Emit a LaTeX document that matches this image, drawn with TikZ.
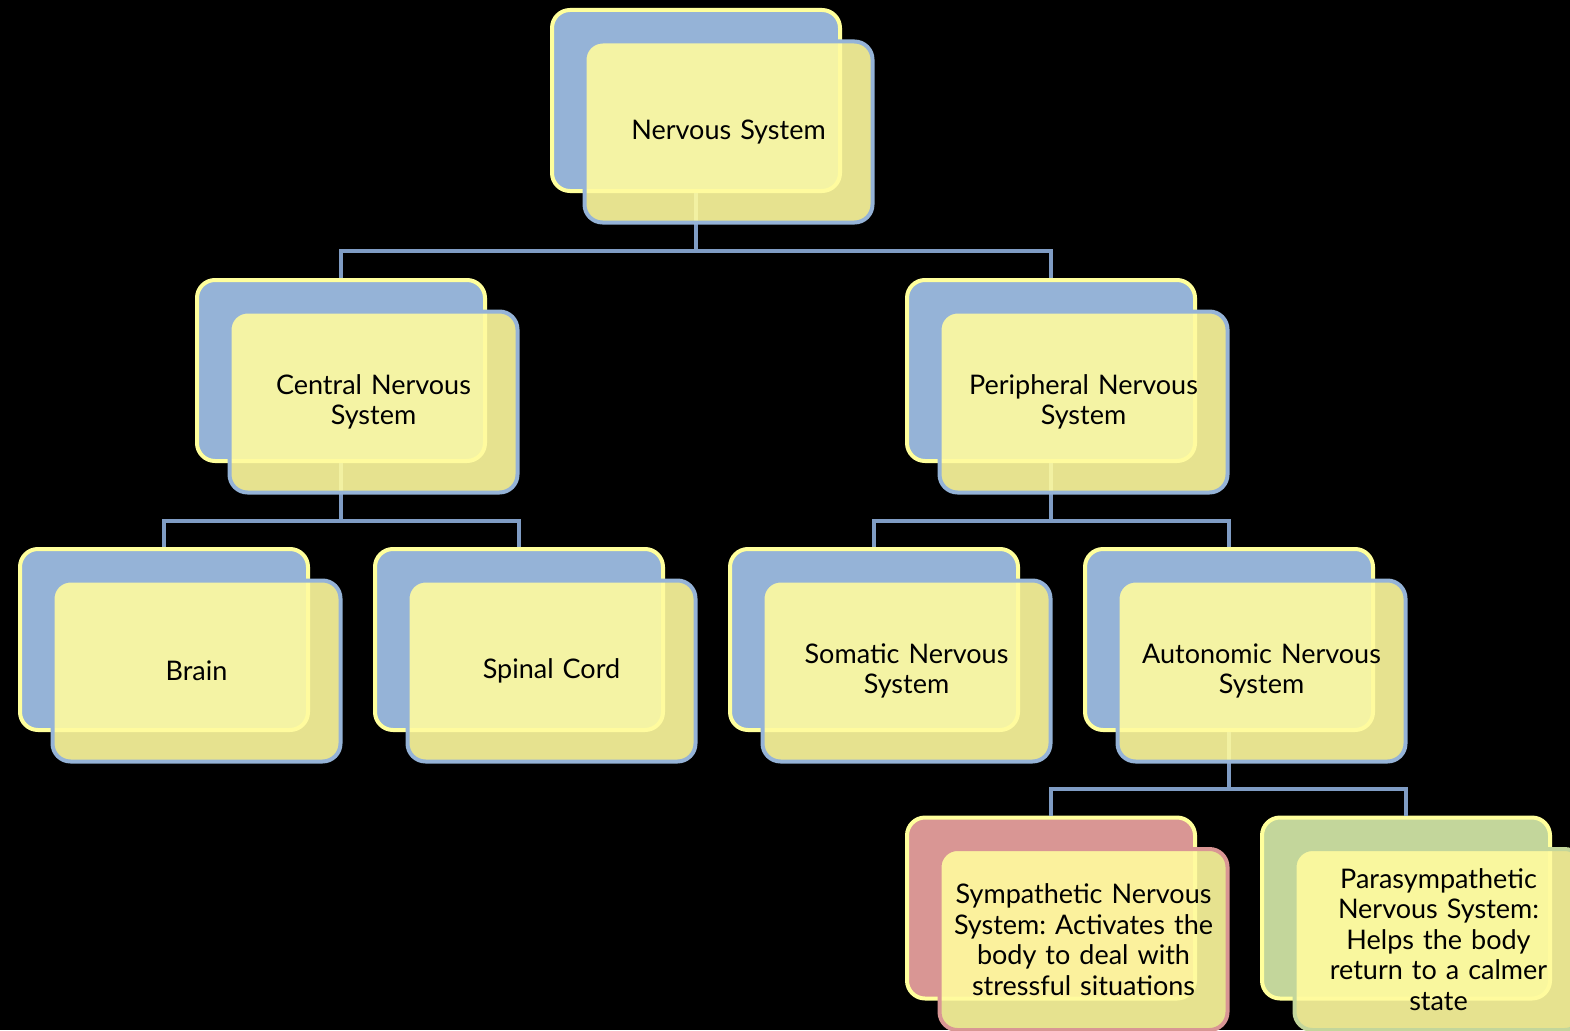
\documentclass[tikz,border=0pt]{standalone}
\usepackage{fontspec}
\setmainfont{Lato}
\frenchspacing
\usetikzlibrary{calc}
\definecolor{backblue}{HTML}{95B3D7}
\definecolor{backred}{HTML}{D99694}
\definecolor{backgreen}{HTML}{C3D69B}
\definecolor{rimyellow}{HTML}{FFFF9C}
\definecolor{cardfill}{RGB}{255,251,159}
\definecolor{linkcol}{HTML}{7F9CC4}
\tikzset{
  backcard/.style={draw=rimyellow, fill=#1, line width=4pt, rounded corners=18pt,
    minimum width=288pt, minimum height=181pt, inner sep=0pt},
  frontcard/.style={draw=#1, fill=cardfill, fill opacity=0.9, text opacity=1,
    line width=4pt, rounded corners=18pt,
    minimum width=288pt, minimum height=181pt, inner sep=0pt,
    text width=276pt, align=center,
    font=\fontsize{27}{30.5}\selectfont},
  link/.style={draw=linkcol, line width=4pt}
}
\begin{document}
\begin{tikzpicture}[x=1pt, y=-1pt]
  \fill[black] (0,0) rectangle (1570,1030);
  \useasboundingbox (0,0) rectangle (1570,1030);

  % back cards
  \node[backcard=backblue]  (top-b)     at (696,100.5) {};
  \node[backcard=backblue]  (cns-b)     at (341,370.5) {};
  \node[backcard=backblue]  (pns-b)     at (1051,370.5) {};
  \node[backcard=backblue]  (brain-b)   at (164,639.5) {};
  \node[backcard=backblue]  (spinal-b)  at (519,639.5) {};
  \node[backcard=backblue]  (somatic-b) at (874,639.5) {};
  \node[backcard=backblue]  (auto-b)    at (1229,639.5) {};
  \node[backcard=backred]   (symp-b)    at (1051,908) {};
  \node[backcard=backgreen] (para-b)    at (1406,908) {};

  % connectors (drawn under the front cards)
  \foreach \p/\c in {top/cns, top/pns, cns/brain, cns/spinal,
                     pns/somatic, pns/auto, auto/symp, auto/para}{
    \draw[link] (\p-b.south) |- ($(\p-b.south)!0.5!(\c-b.north)+(0,15.5)$) -| (\c-b.north);
  }

  % front cards with the labels
  \node[frontcard=backblue]  (top)     at ($(top-b)+(32.5,31.5)$)     {Nervous System};
  \node[frontcard=backblue]  (cns)     at ($(cns-b)+(32.5,31.5)$)     {Central Nervous\\System};
  \node[frontcard=backblue]  (pns)     at ($(pns-b)+(32.5,31.5)$)     {Peripheral Nervous\\System};
  \node[frontcard=backblue]  (brain)   at ($(brain-b)+(32.5,31.5)$)   {Brain};
  \node[frontcard=backblue]  (spinal)  at ($(spinal-b)+(32.5,31.5)$)  {Spinal Cord};
  \node[frontcard=backblue]  (somatic) at ($(somatic-b)+(32.5,31.5)$) {Somatic Nervous\\System};
  \node[frontcard=backblue]  (auto)    at ($(auto-b)+(32.5,31.5)$)    {Autonomic Nervous\\System};
  \node[frontcard=backred]   (symp)    at ($(symp-b)+(32.5,31.5)$)    {Sympathetic Nervous\\System: Activates the\\body to deal with\\stressful situations};
  \node[frontcard=backgreen] (para)    at ($(para-b)+(32.5,31.5)$)    {Parasympathetic\\Nervous System:\\Helps the body\\return to a calmer\\state};
\end{tikzpicture}
\end{document}
